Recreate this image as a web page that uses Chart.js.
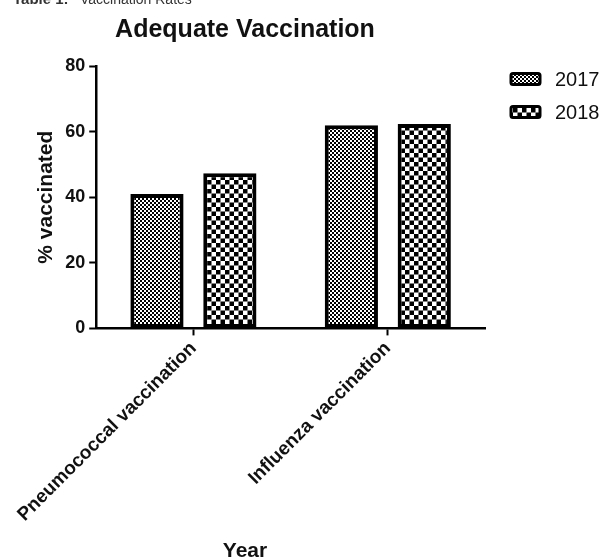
<!DOCTYPE html>
<html>
<head>
<meta charset="utf-8">
<script src="https://cdn.jsdelivr.net/npm/chart.js@4.4.1/dist/chart.umd.min.js"></script>
<style>
  html, body { margin: 0; padding: 0; background: #fff; }
  #wrap { width: 603px; height: 558px; position: relative; }
</style>
</head>
<body>
<div id="wrap"><canvas id="chart"></canvas></div>
<script>
const categories = ['Pneumococcal vaccination', 'Influenza vaccination'];
const series2017 = [41.0, 61.9];
const series2018 = [47.3, 62.3];
const seriesLabels = ['2017', '2018'];

const FONT = '"Liberation Sans", Arial, Helvetica, sans-serif';

// checkerboard fill like the original bars
function checker(cell) {
  const c = document.createElement('canvas');
  c.width = cell * 2;
  c.height = cell * 2;
  const g = c.getContext('2d');
  g.fillStyle = '#fff';
  g.fillRect(0, 0, c.width, c.height);
  g.fillStyle = '#000';
  g.fillRect(0, 0, cell, cell);
  g.fillRect(cell, cell, cell, cell);
  return g.createPattern(c, 'repeat');
}

const fine = checker(2);
const coarse = checker(4.5);

// title, caption, "Year" and the legend are placed like the original,
// which puts them left of the plot centre
const textPlugin = {
  id: 'extraText',
  afterDraw(chart) {
    const ctx = chart.ctx;
    ctx.save();
    ctx.fillStyle = '#333';
    ctx.textBaseline = 'alphabetic';
    ctx.textAlign = 'left';
    ctx.font = 'bold 15px ' + FONT;
    ctx.fillText('Table 1:', 13, 4);
    ctx.font = '14px ' + FONT;
    ctx.fillText('Vaccination Rates', 80, 4);

    ctx.fillStyle = '#111';
    ctx.textAlign = 'center';
    ctx.font = 'bold 25px ' + FONT;
    ctx.fillText('Adequate Vaccination', 245, 37);
    ctx.font = 'bold 21px ' + FONT;
    ctx.fillText('Year', 245, 557);

    // legend
    ctx.textAlign = 'left';
    ctx.textBaseline = 'middle';
    ctx.font = '20px ' + FONT;
    chart.data.datasets.forEach((ds, i) => {
      const y = 79 + i * 33;
      ctx.fillStyle = ds.backgroundColor;
      ctx.strokeStyle = '#000';
      ctx.lineWidth = 3;
      ctx.beginPath();
      ctx.roundRect(511, y - 5.5, 29, 11, 2);
      ctx.fill();
      ctx.stroke();
      ctx.fillStyle = '#111';
      ctx.fillText(ds.label, 555, y + 1);
    });
    ctx.restore();
  }
};

new Chart(document.getElementById('chart'), {
  type: 'bar',
  data: {
    labels: categories,
    datasets: [
      {
        label: seriesLabels[0],
        data: series2017,
        backgroundColor: fine,
        borderColor: '#000',
        borderWidth: 4,
        borderSkipped: false
      },
      {
        label: seriesLabels[1],
        data: series2018,
        backgroundColor: coarse,
        borderColor: '#000',
        borderWidth: 4,
        borderSkipped: false
      }
    ]
  },
  options: {
    responsive: true,
    maintainAspectRatio: false,
    animation: false,
    categoryPercentage: 0.75,
    barPercentage: 0.73,
    layout: { padding: { top: 66, left: 32, right: 118, bottom: 30 } },
    plugins: {
      title: { display: false },
      tooltip: { enabled: false },
      legend: { display: false }
    },
    scales: {
      x: {
        // the long slanted labels may run into the left margin, as in the original
        afterFit(scale) { scale.paddingLeft = 0; },
        grid: {
          display: true,
          drawOnChartArea: false,
          offset: false,
          tickLength: 7,
          tickWidth: 2,
          tickColor: '#000'
        },
        border: { color: '#000', width: 2.5 },
        ticks: {
          color: '#111',
          maxRotation: 45,
          minRotation: 45,
          padding: 2,
          font: { family: FONT, size: 19, weight: 'bold' }
        }
      },
      y: {
        min: 0,
        max: 80,
        ticks: {
          stepSize: 20,
          color: '#111',
          padding: 4,
          font: { family: FONT, size: 18, weight: 'bold' }
        },
        grid: {
          display: true,
          drawOnChartArea: false,
          tickLength: 7,
          tickWidth: 2,
          tickColor: '#000'
        },
        border: { color: '#000', width: 2.5 },
        title: {
          display: true,
          text: '% vaccinated',
          color: '#111',
          padding: 2,
          font: { family: FONT, size: 21, weight: 'bold' }
        }
      }
    }
  },
  plugins: [textPlugin]
});
</script>
</body>
</html>
